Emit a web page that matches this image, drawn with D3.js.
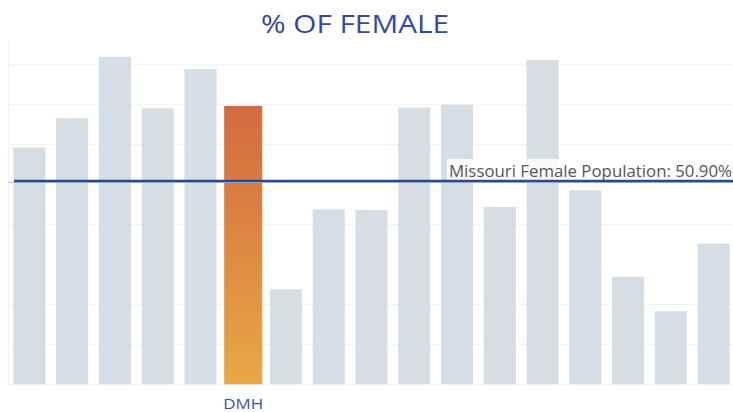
<!DOCTYPE html>
<html><head><meta charset="utf-8">
<script src="https://cdn.jsdelivr.net/npm/d3@7"></script>
<style>html,body{margin:0;padding:0;background:#fff;}svg{display:block;}</style>
</head><body>
<svg id="chart" width="733" height="412"></svg>
<script>
const categories = ["P1","P2","P3","P4","P5","DMH","P7","P8","P9","P10","P11","P12","P13","P14","P15","P16","P17"];
const femalePct = [59.3,66.6,82.0,69.1,78.9,69.7,23.8,43.8,43.6,69.3,70.0,44.4,81.2,48.6,26.9,18.3,35.2];
const highlight = "DMH";
const referenceValue = 50.9;
const referenceLabel = "Missouri Female Population: 50.90%";
const gridValues = [10,20,40,60,70,80];
const titleText = "% OF FEMALE";

const svg = d3.select("#chart");
const W = 733, H = 412;
const x = d3.scaleBand().domain(categories).range([8, 735]).paddingInner(0.25).paddingOuter(0.125);
const y = d3.scaleLinear().domain([0, 86.2]).range([384.3, 40]);

const defs = svg.append("defs");
const grad = defs.append("linearGradient").attr("id","hl").attr("x1",0).attr("y1",0).attr("x2",0).attr("y2",1);
grad.append("stop").attr("offset","0%").attr("stop-color","#d36a40");
grad.append("stop").attr("offset","100%").attr("stop-color","#e8a845");

// title
svg.append("text").attr("x",261).attr("y",33)
  .attr("font-family","'Open Sans', sans-serif").attr("font-size",26).attr("fill","#2f4b9b")
  .attr("textLength",188).attr("lengthAdjust","spacingAndGlyphs")
  .text(titleText);

// grid
svg.append("g").selectAll("line").data(gridValues).join("line")
  .attr("x1",8).attr("x2",W).attr("y1",d=>y(d)).attr("y2",d=>y(d))
  .attr("stroke","#f1f2f4").attr("stroke-width",1);
svg.append("line").attr("x1",8.5).attr("x2",8.5).attr("y1",40).attr("y2",y(0)).attr("stroke","#f1f2f4");
svg.append("line").attr("x1",8).attr("x2",W).attr("y1",y(0)+0.5).attr("y2",y(0)+0.5).attr("stroke","#f1f2f4");

// bars
svg.append("g").selectAll("rect").data(categories).join("rect")
  .attr("x",(d)=> d===highlight ? x(d)-3 : x(d))
  .attr("width",(d)=> d===highlight ? x.bandwidth()+6 : x.bandwidth())
  .attr("y",(d,i)=>y(femalePct[i]))
  .attr("height",(d,i)=>y(0)-y(femalePct[i]))
  .attr("fill",d=> d===highlight ? "url(#hl)" : "#d5dde5");

// reference line
const ry = y(referenceValue);
svg.append("line").attr("x1",8).attr("x2",W).attr("y1",ry+1.5).attr("y2",ry+1.5)
  .attr("stroke","#c4c4c4").attr("stroke-width",1.2);

// label
const lbl = svg.append("g");
lbl.append("rect").attr("x",447).attr("y",159).attr("width",W-447).attr("height",ry-1-159)
  .attr("fill","#fff").attr("opacity",0.85);
lbl.append("text").attr("x",449).attr("y",177)
  .attr("font-family","'Open Sans', sans-serif").attr("font-size",15.5).attr("fill","#555")
  .attr("textLength",283).attr("lengthAdjust","spacingAndGlyphs")
  .text(referenceLabel);

svg.append("line").attr("x1",14).attr("x2",W).attr("y1",ry).attr("y2",ry)
  .attr("stroke","#2b4699").attr("stroke-width",2.6);

// x axis label only for highlight
const ax = svg.append("g").attr("transform",`translate(0,${y(0)})`)
  .call(d3.axisBottom(x).tickSize(0).tickFormat(d=> d===highlight ? d : ""));
ax.select(".domain").remove();
ax.selectAll("text").attr("font-family","'Open Sans', sans-serif").attr("font-size",14.5).attr("fill","#3a52a3")
  .attr("dy",0).attr("y",25.2)
  .filter(d=>d===highlight).attr("textLength",40).attr("lengthAdjust","spacingAndGlyphs");
</script>
</body></html>
